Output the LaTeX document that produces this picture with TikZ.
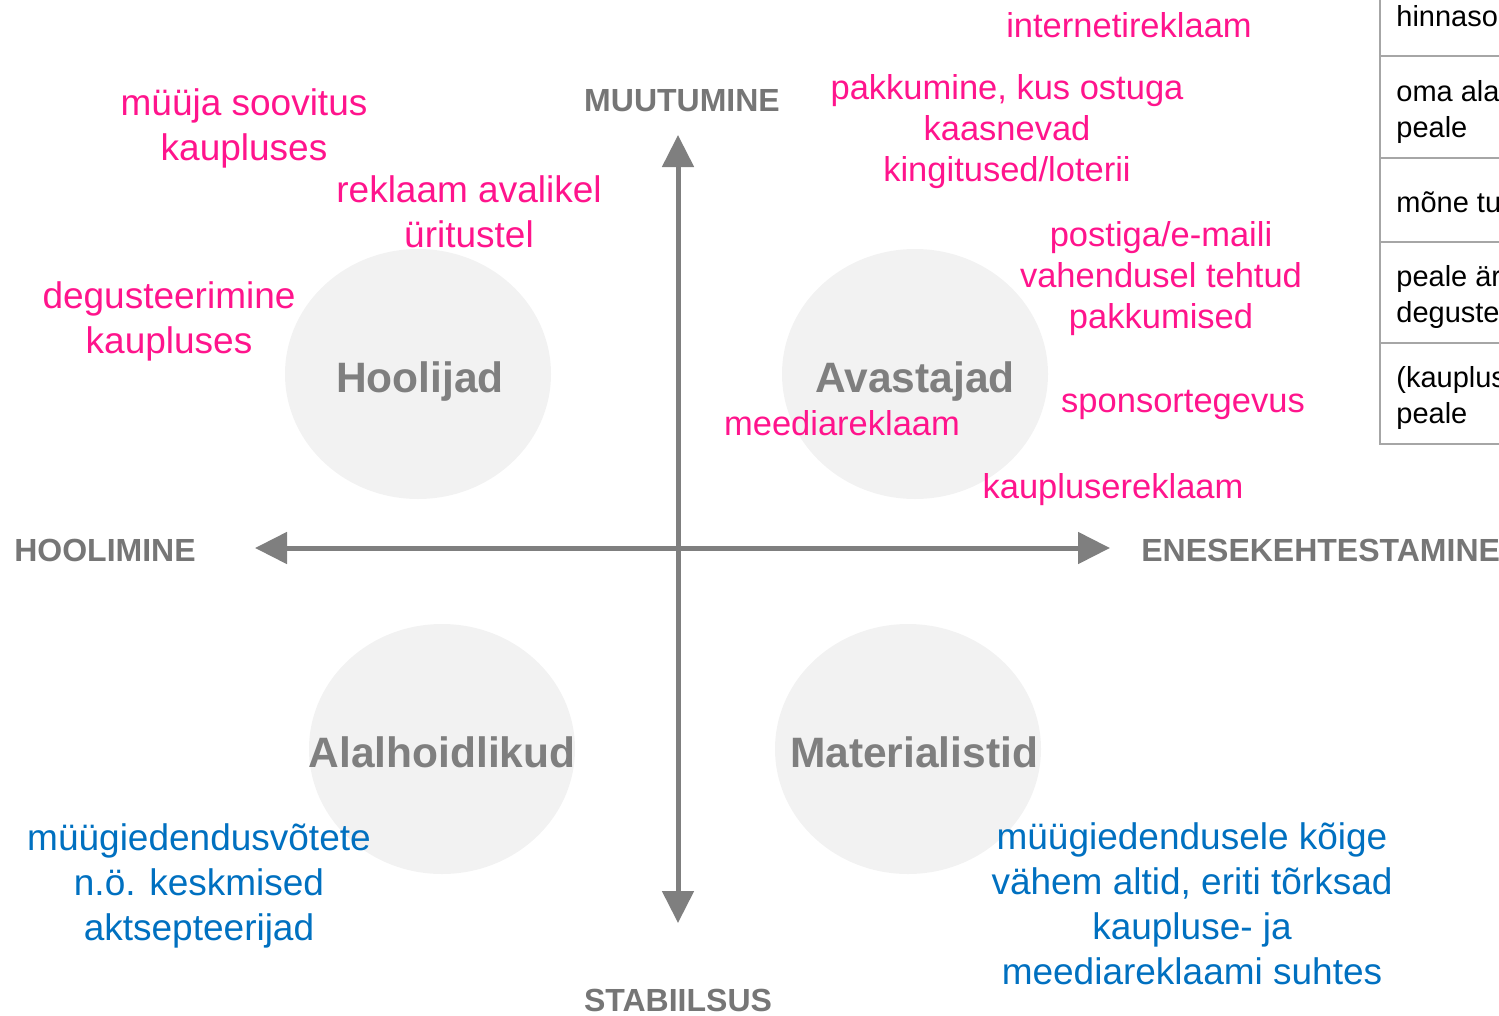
\documentclass[tikz,border=0pt]{standalone}
\usepackage{fontspec}
\setmainfont{Liberation Sans}
\usetikzlibrary{arrows.meta}

\definecolor{pinktxt}{RGB}{255,20,140}
\definecolor{bluetxt}{RGB}{0,112,192}
\definecolor{axisgray}{RGB}{127,127,127}
\definecolor{labelgray}{RGB}{118,118,118}
\definecolor{circfill}{RGB}{242,242,242}
\definecolor{tablegray}{RGB}{166,166,166}

\tikzset{every picture/.style={line width=0.75pt}}
\tikzset{
  axis/.style={draw=axisgray, line width=5pt, {Triangle[length=32pt,width=31pt]}-{Triangle[length=32pt,width=31pt]}},
  group/.style={fill=circfill, draw=none},
  grouplabel/.style={anchor=base, inner sep=0pt, text=axisgray, font=\fontsize{42.5}{48}\selectfont\bfseries},
  axislabel/.style={anchor=base, inner sep=0pt, text=labelgray, font=\fontsize{32}{36}\selectfont\bfseries},
  promo/.style={anchor=base, inner sep=0pt, align=center, text=pinktxt, font=\fontsize{37}{45}\selectfont},
  promosmall/.style={promo, font=\fontsize{34.5}{41}\selectfont},
  buyer/.style={anchor=base, inner sep=0pt, align=center, text=bluetxt, font=\fontsize{37}{45}\selectfont},
  cell/.style={anchor=base west, inner sep=0pt, align=left, font=\fontsize{29}{36}\selectfont}
}

\begin{document}
\begin{tikzpicture}[x=1pt,y=1pt,yscale=-1,xscale=1]
		\useasboundingbox (0,0) rectangle (1499,1015);
		
		% segments
		\fill [group] (418,374) ellipse [x radius=133, y radius=125];
		\fill [group] (915,374) ellipse [x radius=133, y radius=125];
		\fill [group] (442,749) ellipse [x radius=133, y radius=125];
		\fill [group] (908,749) ellipse [x radius=133, y radius=125];
		
		\node [grouplabel] (hoolijad) at (420,392) {Hoolijad};
		\node [grouplabel] (avastajad) at (915,392) {Avastajad};
		\node [grouplabel] (alalhoidlikud) at (442,767) {Alalhoidlikud};
		\node [grouplabel] (materialistid) at (914,767) {Materialistid};
		
		% axes
		\coordinate (left) at (255,548);
		\coordinate (right) at (1110,548);
		\coordinate (top) at (678,135);
		\coordinate (bottom) at (678,923);
		\draw [axis] (left) -- (right);
		\draw [axis] (top) -- (bottom);
		
		\node [axislabel] (muutumine) at (682,111) {MUUTUMINE};
		\node [axislabel] (stabiilsus) at (678,1011) {STABIILSUS};
		\node [axislabel] (hoolimine) at (105,561) {HOOLIMINE};
		\node [axislabel, anchor=base west] (enesekehtestamine) at (1141,561) {ENESEKEHTESTAMINE};
		
		% promotion channels (base = last line)
		\node [promosmall] (internet) at (1129,37) {internetireklaam};
		\node [promo] (myyja) at (244,160) {müüja soovitus\\kaupluses};
		\node [promo] (avalik) at (469,247) {reklaam avalikel\\üritustel};
		\node [promo] (degust) at (169,353) {degusteerimine\\kaupluses};
		\node [promosmall] (kingitus) at (1007,181) {pakkumine, kus ostuga\\kaasnevad\\kingitused/loterii};
		\node [promosmall] (posti) at (1161,328) {postiga/e-maili\\vahendusel tehtud\\pakkumised};
		\node [promosmall] (sponsor) at (1183,412) {sponsortegevus};
		\node [promosmall] (meedia) at (842,435) {meediareklaam};
		\node [promosmall] (kauplus) at (1113,498) {kauplusereklaam};
		
		% buyer types
		\node [buyer] (keskmised) at (199,940) {müügiedendusvõtete\\n.ö. keskmised\\aktsepteerijad};
		\node [buyer] (torksad) at (1192,984) {müügiedendusele kõige\\vähem altid, eriti tõrksad\\kaupluse- ja\\meediareklaami suhtes};
		
		% table on the right
		\draw [tablegray, line width=2pt] (1380,0) -- (1380,444) -- (1499,444);
		\foreach \y in {56,158,242,343} {
			\draw [tablegray, line width=2pt] (1380,\y) -- (1499,\y);
		}
		\node [cell] (rida1) at (1396,26) {hinnaso};
		\node [cell] (rida2) at (1396,137) {oma ala\\peale};
		\node [cell] (rida3) at (1396,212) {mõne tu};
		\node [cell] (rida4) at (1396,322) {peale är\\deguste};
		\node [cell] (rida5) at (1396,423) {(kauplus\\peale};
		
\end{tikzpicture}
\end{document}
